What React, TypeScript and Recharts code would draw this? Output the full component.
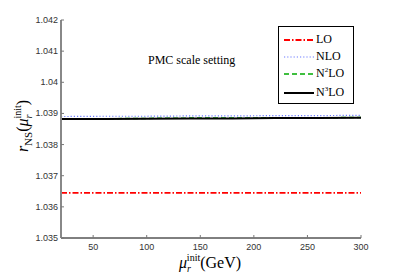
import { LineChart, Line, XAxis, YAxis, Customized } from 'recharts';

const muInit = [20, 60, 100, 140, 180, 220, 260, 300];
const lo = [1.03645, 1.03645, 1.03645, 1.03645, 1.03645, 1.03645, 1.03645, 1.03645];
const nlo = [1.0389, 1.03891, 1.03891, 1.03892, 1.03892, 1.03893, 1.03893, 1.03894];
const n2lo = [1.03883, 1.03883, 1.03884, 1.03885, 1.03885, 1.03886, 1.03886, 1.03887];
const n3lo = [1.03882, 1.03882, 1.03883, 1.03884, 1.03884, 1.03885, 1.03885, 1.03886];

const xTicks = [50, 100, 150, 200, 250, 300];
const yTicks = [1.035, 1.036, 1.037, 1.038, 1.039, 1.04, 1.041, 1.042];

const data = muInit.map((mu, i) => ({ mu, lo: lo[i], nlo: nlo[i], n2lo: n2lo[i], n3lo: n3lo[i] }));

const series = [
  { key: 'lo', name: 'LO', sup: '', color: '#ff0000', dash: '6 2 1.5 2', width: 1.8 },
  { key: 'nlo', name: 'NLO', sup: '', color: '#6b7bff', dash: '1.2 2', width: 1.2 },
  { key: 'n2lo', name: 'N', sup: '2', color: '#00aa00', dash: '5 3', width: 1.5 },
  { key: 'n3lo', name: 'N', sup: '3', color: '#000000', dash: undefined, width: 2 },
];

const tickFont = { fontFamily: 'Liberation Sans, Arial, sans-serif', fontSize: 9, fill: '#333' };
const serif = 'Liberation Serif, DejaVu Serif, serif';

const BottomTick = (props: any) => {
  const { x, y, payload } = props;
  return (
    <g>
      <line x1={x} y1={y} x2={x} y2={y - 3} stroke="#777" />
      <text x={x} y={y + 12} textAnchor="middle" {...tickFont}>{payload.value}</text>
    </g>
  );
};

const TopTick = (props: any) => {
  const { x, y } = props;
  return <line x1={x} y1={y} x2={x} y2={y + 3} stroke="#777" />;
};

const LeftTick = (props: any) => {
  const { x, y, payload } = props;
  return (
    <g>
      <line x1={x} y1={y} x2={x + 3} y2={y} stroke="#777" />
      <text x={x - 3} y={y + 3} textAnchor="end" {...tickFont}>{String(payload.value)}</text>
    </g>
  );
};

const RightTick = (props: any) => {
  const { x, y } = props;
  return <line x1={x} y1={y} x2={x - 3} y2={y} stroke="#777" />;
};

const LegendBox = () => (
  <div style={{ position: 'absolute', left: 278, top: 26, border: '1px solid #000', background: '#fff', width: 76, height: 78, boxSizing: 'border-box', fontFamily: serif, fontSize: 12 }}>
    {series.map((s, i) => (
      <div key={s.key} style={{ display: 'flex', alignItems: 'center', height: i === 3 ? 21 : 17, marginTop: i === 0 ? 4 : 0 }}>
        <svg width={33} height={8} style={{ marginLeft: 4 }}>
          <line x1={1} y1={4} x2={31} y2={4} stroke={s.color} strokeWidth={s.width} strokeDasharray={s.dash} />
        </svg>
        <span>
          {s.name}
          {s.sup && <sup style={{ fontSize: 7 }}>{s.sup}</sup>}
          {s.sup && 'LO'}
        </span>
      </div>
    ))}
  </div>
);

const Annotation = () => (
  <text x={148} y={64} fontFamily={serif} fontSize={12} fill="#000">PMC scale setting</text>
);

const YLabel = () => (
  <text transform="translate(28,126) rotate(-90)" textAnchor="middle" fontFamily={serif} fontSize={16} fill="#000">
    <tspan fontStyle="italic">r</tspan>
    <tspan fontSize={11} dy={4}>NS</tspan>
    <tspan dy={-4}>(</tspan>
    <tspan fontStyle="italic">μ</tspan>
    <tspan fontSize={10} fontStyle="italic" dy={4}>r</tspan>
    <tspan fontSize={10} dy={-11} dx={-4}>init</tspan>
    <tspan dy={7}>)</tspan>
  </text>
);

const XLabel = () => (
  <text x={210} y={268} textAnchor="middle" fontFamily={serif} fontSize={16} fill="#000">
    <tspan fontStyle="italic">μ</tspan>
    <tspan fontSize={10} fontStyle="italic" dy={4}>r</tspan>
    <tspan fontSize={10} dy={-11} dx={-4}>init</tspan>
    <tspan dy={7}>(GeV)</tspan>
  </text>
);

export default function App() {
  return (
    <div style={{ position: 'absolute', left: 0, top: 0, width: 399, height: 277, background: '#fff' }}>
      <LineChart width={399} height={277} data={data} margin={{ top: 20, right: 38, bottom: 0, left: 0 }}>
        <XAxis dataKey="mu" type="number" domain={[20, 300]} ticks={xTicks} height={39} tickSize={0} tickMargin={0}
          interval={0} tick={<BottomTick />} tickLine={false} axisLine={{ stroke: '#000' }} />
        <XAxis xAxisId="top" orientation="top" dataKey="mu" type="number" domain={[20, 300]} ticks={xTicks} height={0}
          interval={0} tickSize={0} tickMargin={0} tick={<TopTick />} tickLine={false} axisLine={{ stroke: '#000' }} />
        <YAxis domain={[1.035, 1.042]} ticks={yTicks} width={61} tickSize={0} tickMargin={0} tick={<LeftTick />}
          interval={0} tickLine={false} axisLine={{ stroke: '#888', strokeWidth: 2 }} allowDataOverflow />
        <YAxis yAxisId="right" orientation="right" domain={[1.035, 1.042]} ticks={yTicks} width={0} tickSize={0}
          interval={0} tickMargin={0} tick={<RightTick />} tickLine={false} axisLine={{ stroke: '#000' }} />
        {series.map((s) => (
          <Line key={s.key} dataKey={s.key} name={s.name} stroke={s.color} strokeWidth={s.width}
            strokeDasharray={s.dash} dot={false} isAnimationActive={false} />
        ))}
        <Customized component={Annotation} />
        <Customized component={YLabel} />
        <Customized component={XLabel} />
      </LineChart>
      <LegendBox />
    </div>
  );
}
